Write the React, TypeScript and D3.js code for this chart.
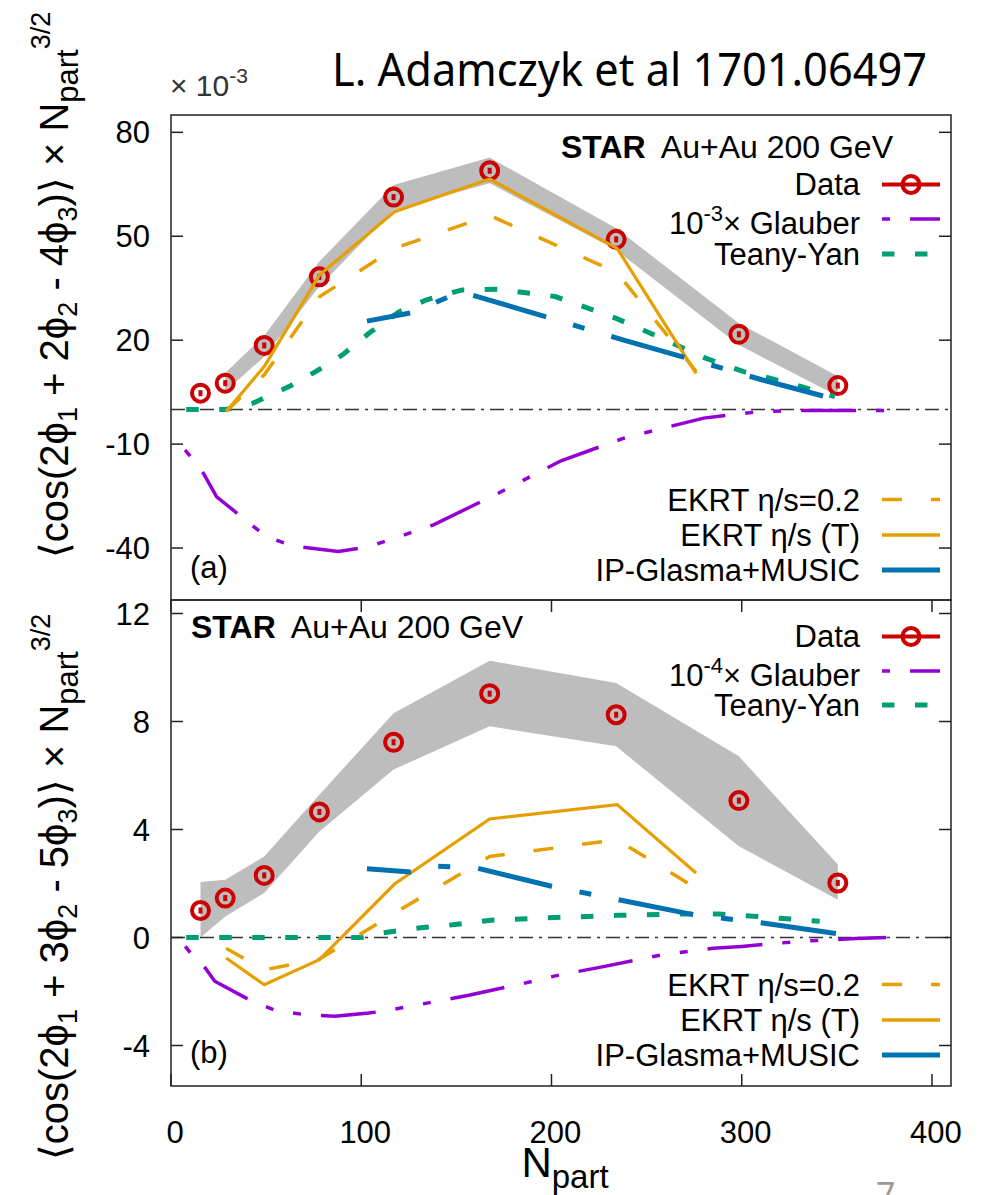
import React from "react";
import * as d3 from "d3";

const WIDTH = 992;
const HEIGHT = 1195;
const LEFT = 171;
const RIGHT = 951;
const FONT = "'Liberation Sans', Arial, Helvetica, sans-serif";

const RED = "#cc0000";
const ORANGE = "#e69f00";
const GREEN = "#009e73";
const BLUE = "#0072b2";
const PURPLE = "#9400d3";
const BAND = "#bdbdbd";

// shared x values
const nPart = [15.5, 28.5, 49, 78, 117, 167.5, 234, 298.5, 350.5];
const xTicks = [0, 100, 200, 300, 400];
const ekrtX = [29, 49, 78, 117.5, 167.5, 234.5, 276];

// panel (a): <cos(2phi1 + 2phi2 - 4phi3)> x Npart^3/2  (x 1e-3)
const yTicksA = [80, 50, 20, -10, -40];
const dataA = [4.7, 7.6, 18.5, 38.3, 61.3, 68.9, 49.1, 21.7, 6.9];
const sysLoA = [null, 5.2, 15.2, 35.5, 57.6, 65.3, 46, 18.6, 3.9];
const sysHiA = [null, 10.5, 21.3, 42.7, 64.8, 72.7, 52.3, 24.9, 9.6];
const ekrt02A = [-0.5, 10, 32.5, 46.5, 56, 39.5, 11];
const ekrtTA = [-0.6, 12.4, 38.8, 57.1, 66.5, 46.5, 10.4];
const teanyXA = [8, 29, 43, 62, 76, 90, 104, 120, 134, 153, 172, 202, 234, 252, 281, 301, 325, 349];
const teanyA = [0, 0, 1.8, 6.6, 10.9, 15.7, 22, 28.2, 31.6, 34.5, 34.7, 32.6, 26.3, 22, 14.8, 10.9, 7.6, 3.7];
const ipXA = [103, 127, 152, 166, 204, 238, 278, 311, 351];
const ipA = [25.5, 28, 34, 31.8, 25.6, 20, 13.8, 8.5, 2.7];
const glauberXA = [7.4, 11, 17, 24, 38, 50, 64, 88, 104, 120, 138, 172, 205, 238, 255, 280, 309, 330, 376];
const glauberA = [-11.7, -14.1, -18.4, -25.2, -31.4, -36.7, -39.4, -41, -39.6, -36.7, -33.3, -24.2, -14.8, -8.3, -5.9, -2.5, -0.6, -0.3, -0.3];

// panel (b): <cos(2phi1 + 3phi2 - 5phi3)> x Npart^3/2
const yTicksB = [12, 8, 4, 0, -4];
const dataB = [1.0, 1.46, 2.3, 4.65, 7.23, 9.03, 8.25, 5.07, 2.02];
const sysLoB = [0, 0.78, 1.65, 3.93, 6.22, 7.82, 7.08, 3.38, 1.4];
const sysHiB = [2.06, 2.14, 3.0, 5.29, 8.31, 10.25, 9.43, 6.71, 2.7];
const ekrt02B = [-0.4, -1.2, -0.8, 0.9, 3.0, 3.62, 1.83];
const ekrtTB = [-0.76, -1.75, -0.82, 1.98, 4.39, 4.92, 2.39];
const teanyXB = [8, 100, 111, 130, 148, 168, 202, 235, 270, 288, 306, 341];
const teanyB = [0, 0, 0.17, 0.35, 0.47, 0.64, 0.74, 0.82, 0.87, 0.87, 0.79, 0.6];
const ipXB = [103, 126, 140, 161, 200, 235, 275, 311, 351];
const ipB = [2.55, 2.43, 2.64, 2.57, 1.9, 1.4, 0.84, 0.54, 0.13];
const glauberXB = [7.5, 11, 18, 23, 42.5, 55, 70.5, 86, 104, 113, 130, 156.5, 186, 202, 228, 258, 285, 300, 331, 360, 376];
const glauberB = [-0.33, -0.64, -1.13, -1.62, -2.36, -2.7, -2.86, -2.92, -2.8, -2.71, -2.49, -2.14, -1.69, -1.42, -1.07, -0.64, -0.4, -0.33, -0.14, -0.04, 0];

// line styles
const DASH_GLAUBER = "8 20 55 20 8 20";
const DASH_TEANY = "12.5 20.5";
const DASH_EKRT = "20 29";
const DASH_IP = "76 28 12 28";
const DASH_ZERO = "14 6 3 6";

const x = d3.scaleLinear().domain([0, 410]).range([LEFT, RIGHT]);
const zip = (xs: number[], ys: number[]) => xs.map((v, i) => [v, ys[i]] as [number, number]);

function Panel(props: any) {
  const { id, top, bottom, yDomain, yTicks, data, sysLo, sysHi, ekrt02, ekrtT,
    teanyX, teany, ipX, ip, glauberX, glauber, xTickMarks, tag, glauberPow, star, leg } = props;
  const y = d3.scaleLinear().domain(yDomain).range([bottom, top]);
  const line = d3.line<[number, number]>().x(d => x(d[0])).y(d => y(d[1]));
  const band = d3.area<number>()
    .defined(i => sysLo[i] != null)
    .x(i => x(nPart[i]))
    .y0(i => y(sysLo[i]))
    .y1(i => y(sysHi[i]));
  const idx = d3.range(nPart.length);
  const lx0 = 882, lx1 = 940, tx = 860;

  return (
    <g fontFamily={FONT}>
      <defs>
        <clipPath id={id}>
          <rect x={LEFT} y={top} width={RIGHT - LEFT} height={bottom - top} />
        </clipPath>
      </defs>
      <g clipPath={`url(#${id})`}>
        <path d={band(idx) || ""} fill={BAND} />
        <line x1={LEFT} x2={RIGHT} y1={y(0)} y2={y(0)} stroke="#333" strokeWidth={1.4} strokeDasharray={DASH_ZERO} />
        {idx.map(i => (
          <g key={i}>
            <circle cx={x(nPart[i])} cy={y(data[i])} r={8.5} fill="none" stroke={RED} strokeWidth={4} />
            <rect x={x(nPart[i]) - 2} y={y(data[i]) - 3} width={4} height={6} fill={RED} />
          </g>
        ))}
        <path d={line(zip(glauberX, glauber)) || ""} fill="none" stroke={PURPLE} strokeWidth={3.5} strokeDasharray={DASH_GLAUBER} />
        <path d={line(zip(teanyX, teany)) || ""} fill="none" stroke={GREEN} strokeWidth={5} strokeDasharray={DASH_TEANY} />
        <path d={line(zip(ekrtX, ekrt02)) || ""} fill="none" stroke={ORANGE} strokeWidth={3.5} strokeDasharray={DASH_EKRT} />
        <path d={line(zip(ekrtX, ekrtT)) || ""} fill="none" stroke={ORANGE} strokeWidth={3.2} />
        <path d={line(zip(ipX, ip)) || ""} fill="none" stroke={BLUE} strokeWidth={5} strokeDasharray={DASH_IP} strokeDashoffset={32} />
      </g>

      {/* frame and ticks */}
      <rect x={LEFT} y={top} width={RIGHT - LEFT} height={bottom - top} fill="none" stroke="#222" strokeWidth={1.5} />
      {yTicks.map((t: number) => (
        <g key={t}>
          <line x1={LEFT} x2={LEFT + 12} y1={y(t)} y2={y(t)} stroke="#222" strokeWidth={1.5} />
          <line x1={RIGHT - 12} x2={RIGHT} y1={y(t)} y2={y(t)} stroke="#222" strokeWidth={1.5} />
          <text x={150} y={y(t)} dy="0.36em" textAnchor="end" fontSize={31}>{t}</text>
        </g>
      ))}
      {xTickMarks && xTicks.map(t => (
        <g key={t}>
          <line x1={x(t)} x2={x(t)} y1={top} y2={top + 12} stroke="#222" strokeWidth={1.5} />
          <line x1={x(t)} x2={x(t)} y1={bottom - 12} y2={bottom} stroke="#222" strokeWidth={1.5} />
          <text x={x(t) + 4} y={bottom + 57} textAnchor="middle" fontSize={31}>{t}</text>
        </g>
      ))}

      <text x={190} y={top + 463} fontSize={31}>{tag}</text>

      {/* legend */}
      <text x={star.x} y={star.y} textAnchor={star.anchor} fontSize={32}>
        <tspan fontWeight="bold">STAR</tspan><tspan dx={8}> Au+Au 200 GeV</tspan>
      </text>
      <text x={tx} y={leg[0]} textAnchor="end" fontSize={31}>Data</text>
      <line x1={lx0} x2={lx1} y1={leg[0] - 10.5} y2={leg[0] - 10.5} stroke={RED} strokeWidth={4} />
      <circle cx={(lx0 + lx1) / 2} cy={leg[0] - 10.5} r={8.5} fill="none" stroke={RED} strokeWidth={4} />
      <text x={tx} y={leg[1]} textAnchor="end" fontSize={31}>
        10<tspan dy={-13} fontSize={22}>{glauberPow}</tspan><tspan dy={13}>× Glauber</tspan>
      </text>
      <line x1={lx0} x2={lx1} y1={leg[1] - 15} y2={leg[1] - 15} stroke={PURPLE} strokeWidth={3.5} strokeDasharray={DASH_GLAUBER} />
      <text x={tx} y={leg[2]} textAnchor="end" fontSize={31}>Teany-Yan</text>
      <line x1={lx0} x2={929} y1={leg[2] - 11} y2={leg[2] - 11} stroke={GREEN} strokeWidth={5} strokeDasharray={DASH_TEANY} />

      <text x={tx} y={top + 395.5} textAnchor="end" fontSize={31}>EKRT η/s=0.2</text>
      <line x1={lx0} x2={lx1} y1={top + 384.5} y2={top + 384.5} stroke={ORANGE} strokeWidth={3.5} strokeDasharray={DASH_EKRT} />
      <text x={tx} y={top + 430.5} textAnchor="end" fontSize={31}>EKRT η/s (T)</text>
      <line x1={lx0} x2={lx1} y1={top + 420} y2={top + 420} stroke={ORANGE} strokeWidth={3.5} />
      <text x={tx} y={top + 465.5} textAnchor="end" fontSize={31}>IP-Glasma+MUSIC</text>
      <line x1={lx0} x2={lx1} y1={top + 455} y2={top + 455} stroke={BLUE} strokeWidth={5} />
    </g>
  );
}

function YTitle({ cy, c2, c3 }: { cy: number; c2: string; c3: string }) {
  return (
    <text transform={`translate(68,${cy}) rotate(-90)`} textAnchor="middle" fontFamily={FONT} fontSize={40}>
      ⟨cos(2ϕ<tspan dy={9} fontSize={27}>1</tspan>
      <tspan dy={-9}> + {c2}ϕ</tspan><tspan dy={9} fontSize={27}>2</tspan>
      <tspan dy={-9}> - {c3}ϕ</tspan><tspan dy={9} fontSize={27}>3</tspan>
      <tspan dy={-9}>)⟩ × N</tspan><tspan dy={10} fontSize={31}>part</tspan>
      <tspan dy={-28} fontSize={27}>3/2</tspan>
    </text>
  );
}

export default function App() {
  return (
    <svg width={WIDTH} height={HEIGHT} style={{ position: "absolute", left: 0, top: 0, background: "white" }}>
      <text x={332} y={86} fontFamily="'Noto Sans', sans-serif" fontSize={46} textLength={595} lengthAdjust="spacingAndGlyphs">
        L. Adamczyk et al 1701.06497
      </text>
      <text x={170} y={96} fontFamily={FONT} fontSize={30} fill="#333">
        × 10<tspan dy={-13} fontSize={21}>-3</tspan>
      </text>

      <YTitle cy={285} c2="2" c3="4" />
      <YTitle cy={887} c2="3" c3="5" />

      <Panel id="clipA" top={115} bottom={600} yDomain={[-55, 85]} yTicks={yTicksA}
        data={dataA} sysLo={sysLoA} sysHi={sysHiA} ekrt02={ekrt02A} ekrtT={ekrtTA}
        teanyX={teanyXA} teany={teanyA} ipX={ipXA} ip={ipA} glauberX={glauberXA} glauber={glauberA}
        xTickMarks={false} tag="(a)" glauberPow="-3"
        star={{ x: 893, y: 157.5, anchor: "end" }} leg={[195, 234, 265]} />
      <Panel id="clipB" top={600} bottom={1086} yDomain={[-5.5, 12.5]} yTicks={yTicksB}
        data={dataB} sysLo={sysLoB} sysHi={sysHiB} ekrt02={ekrt02B} ekrtT={ekrtTB}
        teanyX={teanyXB} teany={teanyB} ipX={ipXB} ip={ipB} glauberX={glauberXB} glauber={glauberB}
        xTickMarks={true} tag="(b)" glauberPow="-4"
        star={{ x: 191, y: 638, anchor: "start" }} leg={[647, 686, 716]} />

      <text fontFamily={FONT} textAnchor="middle" x={565} y={1177} fontSize={42}>
        N<tspan dy={11} fontSize={33}>part</tspan>
      </text>
      <text x={876} y={1207} fontFamily="'Noto Sans', sans-serif" fontSize={34} fill="#9a9a9a">7</text>
    </svg>
  );
}
